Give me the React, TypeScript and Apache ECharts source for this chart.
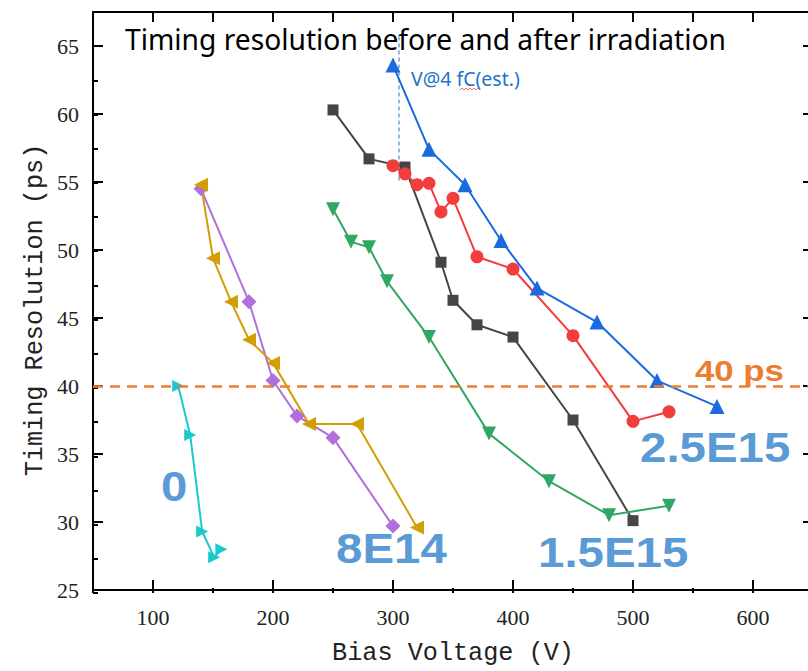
import React, { useEffect, useRef } from "react";
import * as echarts from "echarts";

const voltsGray = [250, 280, 310, 340, 350, 370, 400, 450, 500];
const resGray = [60.3, 56.7, 56.1, 49.1, 46.3, 44.5, 43.6, 37.5, 30.1];
const voltsRed = [300, 310, 320, 330, 340, 350, 370, 400, 450, 500, 530];
const resRed = [56.2, 55.6, 54.8, 54.9, 52.8, 53.8, 49.5, 48.6, 43.7, 37.4, 38.1];
const voltsBlue = [300, 330, 360, 390, 420, 470, 520, 570];
const resBlue = [63.6, 57.4, 54.8, 50.7, 47.2, 44.7, 40.4, 38.5];
const voltsGreen = [250, 265, 280, 295, 330, 380, 430, 480, 530];
const resGreen = [53.0, 50.6, 50.2, 47.7, 43.6, 36.5, 33.0, 30.5, 31.2];
const voltsPurple = [140, 180, 200, 220, 250, 300];
const resPurple = [54.5, 46.2, 40.4, 37.8, 36.2, 29.7];
const voltsGold = [140, 150, 165, 180, 200, 230, 270, 320];
const resGold = [54.8, 49.4, 46.2, 43.4, 41.7, 37.2, 37.2, 29.6];
const voltsCyan = [121, 131, 141, 151, 157];
const resCyan = [40.0, 36.4, 29.3, 27.4, 28.0];

const markerVolts = [305, 305];
const markerRes = [65.7, 55.0];
const threshold = 40;

const xTickLabels = [100, 200, 300, 400, 500, 600];
const yTickLabels = [25, 30, 35, 40, 45, 50, 55, 60, 65];

const zip = (a: number[], b: number[]) => a.map((v, i) => [v, b[i]]);

export default function App() {
  const ref = useRef<HTMLDivElement>(null);
  useEffect(() => {
    if (!ref.current) return;
    const chart = echarts.init(ref.current, undefined, { renderer: "svg" });
    const serif = "Liberation Serif";
    const nameFont = "Liberation Mono";
    const gridPos = { left: 93, top: 12, bottom: 78, right: 0 };
    const axisLine = { show: true, lineStyle: { color: "#000", width: 2 } };
    const mk = (name: string, xs: number[], ys: number[], color: string, symbol: string, size: number, rotate = 0) => ({
      name,
      type: "line",
      xAxisIndex: 0,
      yAxisIndex: 0,
      data: zip(xs, ys),
      symbol,
      symbolSize: size,
      symbolRotate: rotate,
      itemStyle: { color },
      lineStyle: { color, width: 2 },
      z: 3,
    });
    const labelStyle = (text: string, x: number, y: number, size: number, color: string, scaleX: number) => ({
      type: "text",
      x,
      y,
      scaleX,
      style: {
        text,
        fill: color,
        font: `bold ${size}px "Liberation Sans", Arial, sans-serif`,
        textAlign: "left",
        textVerticalAlign: "middle",
      },
      z: 10,
    });
    chart.setOption({
      animation: false,
      backgroundColor: "#fff",
      grid: [gridPos, gridPos],
      xAxis: [
        {
          type: "value",
          gridIndex: 0,
          position: "bottom",
          min: 50,
          max: 650,
          interval: 50,
          axisLine,
          axisTick: { show: true, inside: true, length: 10, customValues: xTickLabels, lineStyle: { color: "#000", width: 2 } },
          axisLabel: { customValues: xTickLabels, margin: 16, fontFamily: serif, fontSize: 22, color: "#222" },
          splitLine: { show: false },
          name: "Bias Voltage (V)",
          nameLocation: "middle",
          nameGap: 51,
          nameTextStyle: { fontFamily: nameFont, fontSize: 25.2, color: "#222" },
        },
        {
          type: "value",
          gridIndex: 0,
          position: "top",
          min: 50,
          max: 650,
          interval: 50,
          axisLine,
          axisTick: { show: true, inside: true, length: 10, lineStyle: { color: "#000", width: 2 } },
          axisLabel: { show: false },
          splitLine: { show: false },
        },
        {
          type: "value",
          gridIndex: 1,
          position: "bottom",
          min: 50,
          max: 650,
          interval: 50,
          axisLine: { show: false },
          axisTick: { show: true, inside: true, length: 5, lineStyle: { color: "#000", width: 2 } },
          axisLabel: { show: false },
          splitLine: { show: false },
        },
      ],
      yAxis: [
        {
          type: "value",
          gridIndex: 0,
          position: "left",
          min: 25,
          max: 67.5,
          interval: 5,
          axisLine,
          axisTick: { show: true, inside: true, length: 10, customValues: yTickLabels, lineStyle: { color: "#000", width: 2 } },
          axisLabel: {
            customValues: yTickLabels,
            margin: 14,
            fontFamily: serif,
            fontSize: 22,
            color: "#222",
            formatter: (v: number) => (v % 5 === 0 ? String(v) : ""),
          },
          splitLine: { show: false },
        },
        {
          type: "value",
          gridIndex: 0,
          position: "right",
          min: 25,
          max: 67.5,
          interval: 5,
          axisLine,
          axisTick: { show: true, inside: true, length: 10, lineStyle: { color: "#000", width: 2 } },
          axisLabel: { show: false },
          splitLine: { show: false },
        },
        {
          type: "value",
          gridIndex: 1,
          position: "left",
          min: 25,
          max: 67.5,
          interval: 2.5,
          axisLine: { show: false },
          axisTick: { show: true, inside: true, length: 5, lineStyle: { color: "#000", width: 2 } },
          axisLabel: { show: false },
          splitLine: { show: false },
        },
      ],
      series: [
        {
          name: "threshold",
          type: "line",
          xAxisIndex: 0,
          yAxisIndex: 0,
          data: [],
          markLine: {
            silent: true,
            symbol: ["none", "none"],
            label: { show: false },
            lineStyle: { color: "#ED7D31", width: 2.5, type: [10, 7] },
            data: [{ yAxis: threshold }],
          },
          z: 1,
        },
        {
          name: "V@4fC",
          type: "line",
          xAxisIndex: 0,
          yAxisIndex: 0,
          data: zip(markerVolts, markerRes),
          symbol: "none",
          lineStyle: { color: "#2E75B6", width: 1, type: [4, 3] },
          z: 2,
        },
        mk("1.5E15 a", voltsGray, resGray, "#454545", "rect", 11),
        mk("2.5E15 a", voltsRed, resRed, "#F23D3D", "circle", 13),
        mk("2.5E15 b", voltsBlue, resBlue, "#1A6AE0", "triangle", 15),
        mk("1.5E15 b", voltsGreen, resGreen, "#2EA862", "triangle", 14, 180),
        mk("8E14 a", voltsPurple, resPurple, "#B06FDC", "diamond", 15),
        mk("8E14 b", voltsGold, resGold, "#D29E06", "path://M0,5L10,0L10,10Z", 14),
        mk("0", voltsCyan, resCyan, "#19C9CC", "path://M10,5L0,0L0,10Z", 12),
      ],
      graphic: [
        {
          type: "text",
          x: 35,
          y: 310,
          rotation: Math.PI / 2,
          style: {
            text: "Timing Resolution (ps)",
            fill: "#222",
            font: `25.2px "${nameFont}", monospace`,
            textAlign: "center",
            textVerticalAlign: "middle",
          },
          z: 10,
        },
        {
          type: "text",
          x: 125,
          y: 39,
          style: {
            text: "Timing resolution before and after irradiation",
            fill: "#000",
            font: '28.2px "Noto Sans", sans-serif',
            textAlign: "left",
            textVerticalAlign: "middle",
          },
          z: 10,
        },
        {
          type: "text",
          x: 411,
          y: 78,
          style: {
            text: "V@4 fC(est.)",
            fill: "#1E74C6",
            font: '19.5px "Noto Sans", sans-serif',
            textAlign: "left",
            textVerticalAlign: "middle",
          },
          z: 10,
        },
        {
          type: "polyline",
          shape: {
            points: [
              [460, 90], [462, 88], [464, 90], [466, 88], [468, 90], [470, 88],
              [472, 90], [474, 88], [476, 90], [478, 88], [480, 90],
            ],
          },
          style: { stroke: "#E84040", lineWidth: 0.8, fill: "none" },
          z: 10,
        },
        labelStyle("40 ps", 695, 371, 29, "#ED7D31", 1.2),
        labelStyle("0", 161, 486, 42, "#5B9BD5", 1.13),
        labelStyle("8E14", 336, 548, 42, "#5B9BD5", 1.13),
        labelStyle("1.5E15", 538, 552, 42, "#5B9BD5", 1.13),
        labelStyle("2.5E15", 640, 447, 42, "#5B9BD5", 1.13),
      ],
    });
    return () => chart.dispose();
  }, []);
  return (
    <div style={{ position: "fixed", left: 0, top: 0, width: 808, height: 671, overflow: "hidden" }}>
      <div ref={ref} style={{ width: 813, height: 671 }} />
    </div>
  );
}
